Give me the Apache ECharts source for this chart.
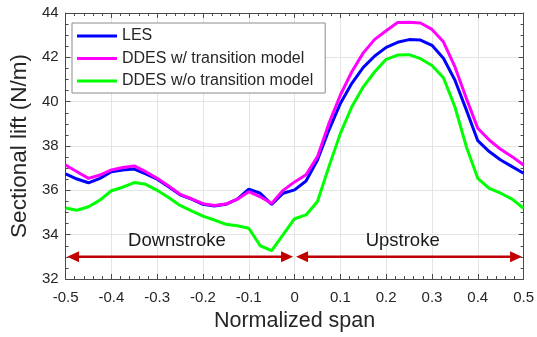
<!DOCTYPE html>
<html>
<head>
<meta charset="utf-8">
<script src="https://cdn.jsdelivr.net/npm/echarts@6/dist/echarts.min.js"></script>
<style>html,body{margin:0;padding:0;background:#fff;}#c{width:537px;height:337px;}</style>
</head>
<body>
<div id="c"></div>
<script>
// Normalized span positions
const span = [-0.5,-0.475,-0.45,-0.425,-0.4,-0.375,-0.35,-0.325,-0.3,-0.275,-0.25,-0.225,-0.2,-0.175,-0.15,-0.125,-0.1,-0.075,-0.05,-0.025,0,0.025,0.05,0.075,0.1,0.125,0.15,0.175,0.2,0.225,0.25,0.275,0.3,0.325,0.35,0.375,0.4,0.425,0.45,0.475,0.5];
// Sectional lift (N/m)
const les = [36.74,36.51,36.34,36.54,36.84,36.92,36.96,36.74,36.5,36.16,35.8,35.6,35.37,35.29,35.37,35.6,36.05,35.87,35.37,35.87,36.02,36.42,37.37,38.72,39.92,40.83,41.55,42.06,42.45,42.68,42.8,42.78,42.54,41.96,40.98,39.63,38.24,37.75,37.37,37.07,36.77];
const ddesWith = [37.14,36.84,36.54,36.69,36.92,37.03,37.1,36.84,36.54,36.2,35.82,35.62,35.4,35.32,35.38,35.6,35.94,35.71,35.41,36.0,36.38,36.7,37.52,39.02,40.3,41.35,42.2,42.81,43.2,43.57,43.58,43.55,43.26,42.7,41.58,40.15,38.8,38.27,37.85,37.52,37.14];
const ddesWithout = [35.2,35.1,35.26,35.56,35.98,36.14,36.35,36.27,36.0,35.68,35.32,35.07,34.84,34.66,34.47,34.4,34.29,33.5,33.28,34.0,34.72,34.89,35.5,37.07,38.57,39.77,40.67,41.35,41.91,42.1,42.12,41.94,41.63,41.08,39.77,37.97,36.54,36.09,35.87,35.6,35.19];
const seriesNames = ['LES','DDES w/ transition model','DDES w/o transition model'];
// Annotations: stroke phases
const phaseLabels = ['Downstroke','Upstroke'];
const phaseStart = [-0.5, 0];
const phaseEnd = [0, 0.5];
const phaseLevel = 33;
const phaseLabelX = [-0.257, 0.236];
const phaseLabelY = 33.72;
// Axis ticks
const xTicks = [-0.5,-0.4,-0.3,-0.2,-0.1,0,0.1,0.2,0.3,0.4,0.5];
const yTicks = [32,34,36,38,40,42,44];

const FONT = '"Liberation Sans", Arial, Helvetica, sans-serif';
const AX = '#4a4a4a';
const colors = ['#0000ff','#ff00ff','#00ff00'];
const seriesData = [les, ddesWith, ddesWithout];
const zOrder = [4, 5, 3];

const chart = echarts.init(document.getElementById('c'), null, {renderer:'canvas'});

function fmtX(v){ const r = Math.round(v*10)/10; return r === 0 ? '0' : String(r); }

const baseX = {
  type:'value', min:xTicks[0], max:xTicks[xTicks.length-1], interval:0.1,
  axisLine:{show:true, onZero:false, lineStyle:{color:AX, width:1}},
  axisTick:{show:true, inside:true, length:5, lineStyle:{color:AX}},
  minorTick:{show:true, splitNumber:5, length:3, lineStyle:{color:AX}},
};
const baseY = {
  type:'value', min:yTicks[0], max:yTicks[yTicks.length-1], interval:2,
  axisLine:{show:true, onZero:false, lineStyle:{color:AX, width:1}},
  axisTick:{show:true, inside:true, length:5, lineStyle:{color:AX}},
  minorTick:{show:true, splitNumber:4, length:3, lineStyle:{color:AX}},
};

const lines = seriesNames.map((n,i)=>({
  name:n, type:'line', xAxisIndex:0, yAxisIndex:0,
  data: span.map((x,j)=>[x, seriesData[i][j]]),
  showSymbol:false, symbol:'none', smooth:false,
  lineStyle:{color:colors[i], width:3},
  itemStyle:{color:colors[i]},
  z: zOrder[i]
}));

const arrowSeries = {
  type:'custom', xAxisIndex:0, yAxisIndex:0, silent:true, clip:false, z:10,
  data: phaseStart.map((s,i)=>[s, phaseEnd[i], phaseLevel, phaseLabelX[i], phaseLabelY]),
  renderItem: function(params, api){
    const p0 = api.coord([api.value(0), api.value(2)]);
    const p1 = api.coord([api.value(1), api.value(2)]);
    const lp = api.coord([api.value(3), api.value(4)]);
    const gap = 1.5, L = 12, W = 5.5;
    const a = p0[0] + gap, b = p1[0] - gap, y = p0[1];
    const col = '#c00000';
    return {type:'group', children:[
      {type:'line', shape:{x1:a+L-2, y1:y, x2:b-L+2, y2:y}, style:{stroke:col, lineWidth:2.5}},
      {type:'polygon', shape:{points:[[a,y],[a+L,y-W],[a+L,y+W]]}, style:{fill:col}},
      {type:'polygon', shape:{points:[[b,y],[b-L,y-W],[b-L,y+W]]}, style:{fill:col}},
      {type:'text', style:{text:phaseLabels[params.dataIndex], x:lp[0], y:lp[1], align:'center', verticalAlign:'middle', fill:'#1a1a1a', font:'18.5px ' + FONT}}
    ]};
  }
};

chart.setOption({
  animation:false,
  backgroundColor:'#fff',
  textStyle:{fontFamily:FONT},
  grid:{left:62, right:12, top:13, bottom:58, containLabel:false},
  legend:{
    data: seriesNames.map(n=>({name:n, icon:'rect'})),
    orient:'vertical', left:72, top:23,
    itemWidth:40, itemHeight:3, itemGap:2.5,
    padding:[3,12,2,5],
    backgroundColor:'#fff', borderColor:'#8c8c8c', borderWidth:1,
    textStyle:{fontSize:16, lineHeight:20, color:'#262626', fontFamily:FONT},
    selectedMode:false
  },
  xAxis:[
    Object.assign({}, baseX, {
      position:'bottom',
      name:'Normalized span', nameLocation:'middle', nameGap:31,
      nameTextStyle:{fontSize:21.5, color:'#262626', fontFamily:FONT},
      axisLabel:{show:true, fontSize:15, color:'#262626', margin:11, formatter:fmtX, fontFamily:FONT},
      splitLine:{show:true, lineStyle:{color:'#e4e4e4', width:1}}
    }),
    Object.assign({}, baseX, {position:'top', axisLabel:{show:false}, splitLine:{show:false}})
  ],
  yAxis:[
    Object.assign({}, baseY, {
      position:'left',
      name:'Sectional lift (N/m)', nameLocation:'middle', nameGap:33,
      nameTextStyle:{fontSize:22.5, color:'#262626', fontFamily:FONT},
      axisLabel:{show:true, fontSize:15, color:'#262626', margin:7, fontFamily:FONT},
      splitLine:{show:true, lineStyle:{color:'#e4e4e4', width:1}}
    }),
    Object.assign({}, baseY, {position:'right', axisLabel:{show:false}, splitLine:{show:false}})
  ],
  series: lines.concat([arrowSeries])
});
</script>
</body>
</html>
